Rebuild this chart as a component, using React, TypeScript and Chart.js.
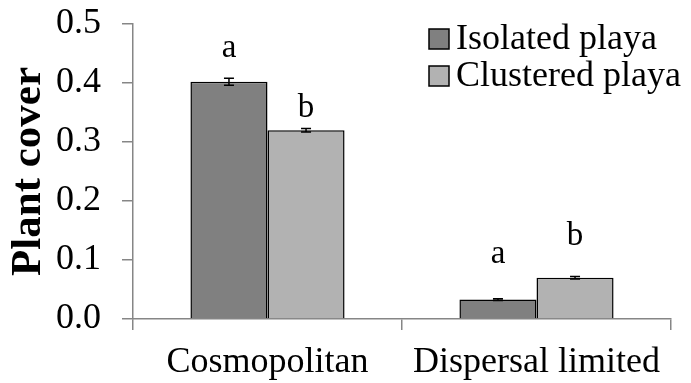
import React, { useEffect, useRef } from "react";
import { Chart, registerables } from "chart.js";

Chart.register(...registerables);

// Categories and series
const categories = ["Cosmopolitan", "Dispersal limited"];
const seriesNames = ["Isolated playa", "Clustered playa"];
const isolatedCover = [0.402, 0.033];
const clusteredCover = [0.32, 0.07];
const isolatedError = [0.006, 0.0015];
const clusteredError = [0.003, 0.002];
// Significance letters and the height (in plant-cover units) of their baselines
const isolatedLetters = ["a", "a"];
const clusteredLetters = ["b", "b"];
const isolatedLetterY = [0.444, 0.095];
const clusteredLetterY = [0.342, 0.125];
const yTicks = [0, 0.1, 0.2, 0.3, 0.4, 0.5];

const SERIF = "'Liberation Serif', 'Times New Roman', serif";
const FILLS = ["#808080", "#b2b2b2"];
const AXIS = "#868686";

const errors = [isolatedError, clusteredError];
const letters = [isolatedLetters, clusteredLetters];
const letterY = [isolatedLetterY, clusteredLetterY];

const errorBarsPlugin = {
  id: "errorBars",
  afterDatasetsDraw(chart: any) {
    const ctx = chart.ctx;
    const y = chart.scales.y;
    ctx.save();
    ctx.strokeStyle = "#000";
    ctx.lineWidth = 1.5;
    chart.data.datasets.forEach((ds: any, di: number) => {
      const meta = chart.getDatasetMeta(di);
      meta.data.forEach((bar: any, i: number) => {
        const v = ds.data[i];
        const e = errors[di][i];
        const top = y.getPixelForValue(v + e);
        const bot = y.getPixelForValue(v - e);
        const x = bar.x;
        ctx.beginPath();
        ctx.moveTo(x, top);
        ctx.lineTo(x, bot);
        ctx.moveTo(x - 5, top);
        ctx.lineTo(x + 5, top);
        ctx.moveTo(x - 5, bot);
        ctx.lineTo(x + 5, bot);
        ctx.stroke();
      });
    });
    // significance letters
    ctx.fillStyle = "#000";
    ctx.font = `33px ${SERIF}`;
    ctx.textAlign = "center";
    ctx.textBaseline = "alphabetic";
    chart.data.datasets.forEach((_ds: any, di: number) => {
      const meta = chart.getDatasetMeta(di);
      meta.data.forEach((bar: any, i: number) => {
        ctx.fillText(letters[di][i], bar.x, y.getPixelForValue(letterY[di][i]));
      });
    });
    ctx.restore();
  },
};

const boxLegendPlugin = {
  id: "boxLegend",
  afterDraw(chart: any) {
    const ctx = chart.ctx;
    ctx.save();
    ctx.font = `36px ${SERIF}`;
    ctx.textBaseline = "middle";
    ctx.textAlign = "left";
    chart.data.datasets.forEach((ds: any, di: number) => {
      const cy = 39 + di * 37;
      ctx.fillStyle = ds.backgroundColor;
      ctx.fillRect(429, cy - 10, 20, 20);
      ctx.strokeStyle = "#000";
      ctx.lineWidth = 1.5;
      ctx.strokeRect(429, cy - 10, 20, 20);
      ctx.fillStyle = "#000";
      ctx.fillText(ds.label, 456, cy + 1);
    });
    ctx.restore();
  },
};

export default function App() {
  const canvasRef = useRef<HTMLCanvasElement | null>(null);

  useEffect(() => {
    if (!canvasRef.current) return;
    const chart = new Chart(canvasRef.current, {
      type: "bar",
      data: {
        labels: categories,
        datasets: [
          {
            label: seriesNames[0],
            data: isolatedCover,
            backgroundColor: FILLS[0],
            borderColor: "#000",
            borderWidth: 1.5,
          },
          {
            label: seriesNames[1],
            data: clusteredCover,
            backgroundColor: FILLS[1],
            borderColor: "#000",
            borderWidth: 1.5,
          },
        ],
      },
      options: {
        responsive: false,
        animation: false,
        layout: { padding: { top: 24, right: 20, left: 0, bottom: 0 } },
        plugins: {
          legend: { display: false },
          tooltip: { enabled: false },
        },
        datasets: {
          bar: { barPercentage: 1, categoryPercentage: 0.573 },
        },
        scales: {
          x: {
            offset: true,
            grid: {
              offset: true,
              drawOnChartArea: false,
              tickLength: 11,
              color: AXIS,
              lineWidth: 1.5,
            },
            border: { color: AXIS, width: 1.5 },
            ticks: {
              color: "#000",
              font: { family: SERIF, size: 36 },
              padding: 11,
              maxRotation: 0,
            },
            afterFit(scale: any) {
              scale.height = 64;
              scale.paddingLeft = 0;
              scale.paddingRight = 0;
            },
          },
          y: {
            min: 0,
            max: 0.5,
            afterBuildTicks(scale: any) {
              scale.ticks = yTicks.map((v) => ({ value: v }));
            },
            grid: {
              drawOnChartArea: false,
              tickLength: 11,
              color: AXIS,
              lineWidth: 1.5,
            },
            border: { color: AXIS, width: 1.5 },
            ticks: {
              color: "#000",
              font: { family: SERIF, size: 36 },
              padding: 21,
              callback: (v: any) => Number(v).toFixed(1),
            },
            title: {
              display: true,
              text: "Plant cover",
              color: "#000",
              font: { family: SERIF, size: 43, weight: "bold" },
              padding: { top: 3, bottom: 0 },
            },
            afterFit(scale: any) {
              scale.width = 133;
              scale.paddingTop = 0;
              scale.paddingBottom = 0;
            },
          },
        },
      },
      plugins: [errorBarsPlugin, boxLegendPlugin],
    });
    return () => chart.destroy();
  }, []);

  return (
    <div style={{ position: "fixed", left: 0, top: 0, width: 691, height: 383, background: "#fff" }}>
      <canvas ref={canvasRef} width={691} height={383} />
    </div>
  );
}
